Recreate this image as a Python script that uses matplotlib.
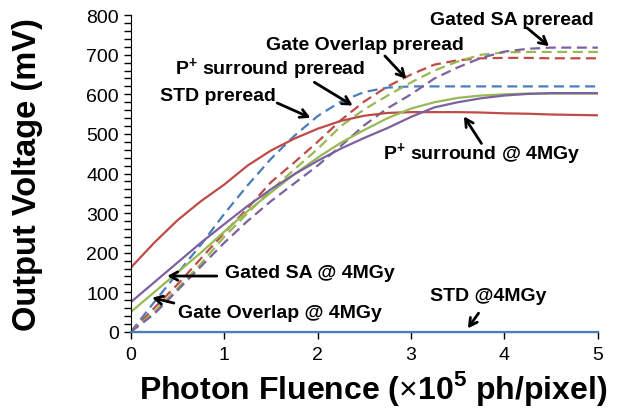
import numpy as np
import matplotlib.pyplot as plt
from matplotlib.ticker import MultipleLocator

plt.rcParams['font.family'] = ['Liberation Sans', 'DejaVu Sans']
plt.rcParams['mathtext.fontset'] = 'custom'
plt.rcParams['mathtext.rm'] = 'Liberation Sans'
plt.rcParams['mathtext.bf'] = 'Liberation Sans:bold'

# photon fluence (x1e5 ph/pixel)
fluence = [0, 0.25, 0.5, 0.75, 1, 1.25, 1.5, 1.75, 2, 2.25, 2.5,
           2.75, 3, 3.25, 3.5, 3.75, 4, 4.25, 4.5, 4.75, 5]

# pre-irradiation (dashed)
std_pre = [0, 75, 148, 220, 298, 370, 437, 495, 545, 582, 606,
           617, 620, 620, 620, 620, 620, 620, 620, 620, 620]
psur_pre = [0, 60, 120, 185, 250, 312, 378, 428, 480, 535, 582,
            620, 650, 675, 686, 691, 692, 692, 691, 691, 691]
gov_pre = [0, 50, 110, 172, 240, 300, 358, 410, 462, 520, 562,
           597, 630, 660, 683, 700, 706, 707, 707, 707, 707]
gsa_pre = [0, 45, 105, 165, 225, 280, 330, 375, 420, 470, 522,
           565, 600, 640, 668, 692, 708, 715, 718, 718, 718]

# after 4 MGy (solid)
std_4m = [0] * len(fluence)
psur_4m = [162, 225, 282, 330, 372, 420, 458, 488, 513, 533, 546,
           553, 555, 555, 555, 554, 552, 551, 549, 548, 547]
gov_4m = [50, 100, 150, 200, 253, 305, 352, 398, 440, 478, 510,
          540, 564, 580, 591, 597, 600, 602, 602, 602, 602]
gsa_4m = [75, 125, 175, 225, 272, 318, 360, 398, 432, 463, 490,
          515, 543, 567, 580, 590, 597, 601, 603, 603, 603]

blue = '#4A7EBB'
red = '#BE4B48'
green = '#98B954'
purple = '#7D60A0'

fig = plt.figure(figsize=(6.17, 4.14), dpi=100)
ax = fig.add_axes([0.212, 0.196, 0.757, 0.765])

dash = (4.5, 2.5)
for y, c in [(std_pre, blue), (psur_pre, red), (gov_pre, green), (gsa_pre, purple)]:
    ax.plot(fluence, y, color=c, lw=1.6, dashes=dash)
for y, c in [(psur_4m, red), (gov_4m, green), (gsa_4m, purple)]:
    ax.plot(fluence, y, color=c, lw=1.6)
ax.plot(fluence, std_4m, color=blue, lw=1.6, clip_on=False, zorder=5)

ax.set_xlim(0, 5)
ax.set_ylim(0, 800)
ax.yaxis.set_major_locator(MultipleLocator(100))
ax.yaxis.set_minor_locator(MultipleLocator(20))
ax.xaxis.set_major_locator(MultipleLocator(1))
ax.tick_params(axis='both', which='major', labelsize=14, length=5, width=1)
ax.tick_params(axis='y', which='minor', length=5, width=1)
ax.tick_params(axis='x', which='major', pad=5)
ax.spines['top'].set_visible(False)
ax.spines['right'].set_visible(False)

ax.set_xlabel(r'Photon Fluence ($\times$10$^{\mathbf{5}}$ ph/pixel)',
              fontsize=23, fontweight='bold')
ax.set_ylabel('Output Voltage (mV)', fontsize=23.5, fontweight='bold')
ax.xaxis.set_label_coords(0.519, -0.115)
ax.yaxis.set_label_coords(-0.187, 0.5)

arr = dict(arrowstyle='->, head_length=0.55, head_width=0.3', color='k', lw=2)
notes = [
    ('Gated SA preread', (3.2, 790), (4.5, 717), (4.22, 772)),
    ('Gate Overlap preread', (1.445, 727), (2.97, 634), (2.7, 702)),
    (r'P$^{\mathbf{+}}$ surround preread', (0.47, 664), (2.4, 568), (1.94, 634)),
    ('STD preread', (0.31, 596), (1.95, 538), (1.54, 581)),
    (r'P$^{\mathbf{+}}$ surround @ 4MGy', (2.70, 449), (3.55, 550), (3.77, 470)),
    ('Gated SA @ 4MGy', (1.006, 149), (0.36, 141), (0.95, 141)),
    ('Gate Overlap @ 4MGy', (0.503, 50), (0.2, 88), (0.49, 71)),
    ('STD @4MGy', (3.2, 91), (3.59, 3), (3.74, 53)),
]
for txt, pos, tip, tail in notes:
    ax.text(pos[0], pos[1], txt, fontsize=14, fontweight='bold',
            ha='left', va='center')
    ax.annotate('', xy=tip, xytext=tail, arrowprops=arr)

fig.savefig('out.png', dpi=100)
